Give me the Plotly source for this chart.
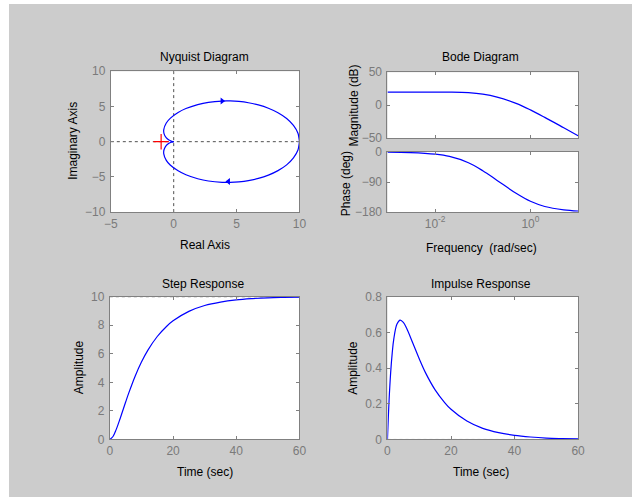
import plotly.graph_objects as go

# ---------------- data ----------------
# Nyquist, lower branch (positive frequencies): real / imag
nyq_re = [10.0, 9.88, 9.52, 8.98, 8.29, 7.53, 6.73, 5.94, 5.18, 4.49, 3.85, 2.76, 1.91, 0.97,
          0.35, -0.28, -0.59, -0.79, -0.77, -0.60, -0.38, -0.20, -0.08, 0.0]
nyq_im_low = [0.0, -1.19, -2.30, -3.29, -4.11, -4.75, -5.22, -5.53, -5.71, -5.78, -5.77, -5.58,
              -5.26, -4.70, -4.14, -3.31, -2.65, -1.72, -1.15, -0.57, -0.24, -0.08, -0.02, 0.0]
# Nyquist, upper branch (negative frequencies)
nyq_im_up = [0.0, 1.19, 2.30, 3.29, 4.11, 4.75, 5.22, 5.53, 5.71, 5.78, 5.77, 5.58,
             5.26, 4.70, 4.14, 3.31, 2.65, 1.72, 1.15, 0.57, 0.24, 0.08, 0.02, 0.0]
nyq_arrow_re = [3.85, 4.35]
nyq_arrow_im = [5.77, -5.65]

# Bode
bode_w = [0.001, 0.003, 0.01, 0.02, 0.05, 0.1, 0.2, 0.5, 1.0, 2.0, 5.0, 10.0]
bode_mag = [20.0, 20.0, 19.96, 19.82, 18.99, 16.82, 12.37, 2.84, -7.03, -18.34, -34.02, -46.03]
bode_phase = [-0.7, -2.1, -6.9, -13.6, -32.3, -56.3, -85.2, -123.7, -147.7, -163.1, -173.1, -176.6]

# Step response
step_t = [0, 1, 2, 3, 4, 5, 6, 8, 10, 12, 15, 18, 20, 25, 30, 35, 40, 45, 50, 55, 60]
step_y = [0, 0.21, 0.69, 1.30, 1.96, 2.62, 3.26, 4.43, 5.42, 6.24, 7.21, 7.93, 8.31, 8.97,
          9.38, 9.62, 9.77, 9.86, 9.92, 9.95, 9.97]
step_final = 10

# Impulse response
imp_t = [0, 0.5, 1, 1.5, 2, 3, 4, 5, 6, 8, 10, 12, 15, 18, 20, 25, 30, 35, 40, 45, 50, 55, 60]
imp_y = [0, 0.216, 0.373, 0.485, 0.564, 0.647, 0.669, 0.656, 0.624, 0.539, 0.452, 0.373, 0.278,
         0.207, 0.169, 0.103, 0.062, 0.038, 0.023, 0.014, 0.008, 0.005, 0.003]

# ---------------- figure ----------------
OFFX, OFFY = 9, 4                  # white page margin left / top (as in the reference)
W, H = 632 - OFFX, 497 - OFFY      # figure fills the rest of the window
BG = "#cccccc"
BLUE = "#0000ff"
FRAME = "#808080"
FONT = "Liberation Sans, Arial, sans-serif"


def px(x):
    # window pixel -> paper fraction
    return (x - OFFX) / W


def py(y):
    return 1 - (y - OFFY) / H


fig = go.Figure()

# Nyquist
fig.add_trace(go.Scatter(x=[-5, 10], y=[0, 0], mode="lines",
                         line=dict(color="#505050", width=1, dash="3px,3px"),
                         xaxis="x", yaxis="y", hoverinfo="skip"))
fig.add_trace(go.Scatter(x=[0, 0], y=[-10, 10], mode="lines",
                         line=dict(color="#505050", width=1, dash="3px,3px"),
                         xaxis="x", yaxis="y", hoverinfo="skip"))
fig.add_trace(go.Scatter(x=nyq_re, y=nyq_im_low, mode="lines", line=dict(color=BLUE, width=1.2, shape="spline", smoothing=0.6),
                         xaxis="x", yaxis="y"))
fig.add_trace(go.Scatter(x=nyq_re, y=nyq_im_up, mode="lines", line=dict(color=BLUE, width=1.2, shape="spline", smoothing=0.6),
                         xaxis="x", yaxis="y"))
fig.add_trace(go.Scatter(x=nyq_arrow_re, y=nyq_arrow_im, mode="markers",
                         marker=dict(color=BLUE, size=6, symbol=["triangle-right", "triangle-left"]),
                         xaxis="x", yaxis="y"))
fig.add_trace(go.Scatter(x=[-1], y=[0], mode="markers",
                         marker=dict(symbol="cross-thin", size=11, line=dict(color="#ff0000", width=1.2)),
                         xaxis="x", yaxis="y"))

# Bode
fig.add_trace(go.Scatter(x=bode_w, y=bode_mag, mode="lines", line=dict(color=BLUE, width=1.2, shape="spline"),
                         xaxis="x2", yaxis="y2"))
fig.add_trace(go.Scatter(x=bode_w, y=bode_phase, mode="lines", line=dict(color=BLUE, width=1.2, shape="spline"),
                         xaxis="x3", yaxis="y3"))

# Step
fig.add_trace(go.Scatter(x=[0, 60], y=[step_final, step_final], mode="lines",
                         line=dict(color="#202020", width=1, dash="3px,3px"), xaxis="x4", yaxis="y4"))
fig.add_trace(go.Scatter(x=step_t, y=step_y, mode="lines", line=dict(color=BLUE, width=1.2, shape="spline"),
                         xaxis="x4", yaxis="y4"))

# Impulse
fig.add_trace(go.Scatter(x=[0, 60], y=[0, 0], mode="lines",
                         line=dict(color="#202020", width=1, dash="3px,3px"), xaxis="x5", yaxis="y5"))
fig.add_trace(go.Scatter(x=imp_t, y=imp_y, mode="lines", line=dict(color=BLUE, width=1.2, shape="spline"),
                         xaxis="x5", yaxis="y5"))


def ax(domain, anchor, **kw):
    d = dict(domain=domain, anchor=anchor, showline=True, linecolor=FRAME, linewidth=1,
             mirror="allticks", ticks="inside", ticklen=3, tickcolor=FRAME,
             showgrid=False, zeroline=False, tickfont=dict(family=FONT, size=12, color="#7a7a7a"),
             fixedrange=True)
    d.update(kw)
    return d


L1, R1 = px(106), px(299)
L2, R2 = px(389), px(584)

layout = dict(
    width=W, height=H, margin=dict(l=0, r=0, t=0, b=0),
    paper_bgcolor=BG, plot_bgcolor="white", showlegend=False,
    font=dict(family=FONT, size=12, color="black"),
    xaxis=ax([L1, R1], "y", range=[-5, 10], tickvals=[-5, 0, 5, 10]),
    yaxis=ax([py(211), py(66)], "x", range=[-10, 10], tickvals=[-10, -5, 0, 5, 10], ticklabelstandoff=2),
    xaxis2=ax([L2, R2], "y2", type="log", range=[-3, 1], tickvals=[0.01, 1], showticklabels=False),
    yaxis2=ax([py(135), py(67)], "x2", range=[-50, 50], tickvals=[-50, 0, 50], ticklabelstandoff=2),
    xaxis3=ax([L2, R2], "y3", type="log", range=[-3, 1], tickvals=[0.01, 1],
              ticktext=["10<sup>-2</sup>", "10<sup>0</sup>"]),
    yaxis3=ax([py(211), py(149)], "x3", range=[-180, 0], tickvals=[-180, -90, 0], ticklabelstandoff=2),
    xaxis4=ax([px(105), R1], "y4", range=[0, 60], tickvals=[0, 20, 40, 60]),
    yaxis4=ax([py(445), py(298)], "x4", range=[0, 10], tickvals=[0, 2, 4, 6, 8, 10], ticklabelstandoff=2),
    xaxis5=ax([L2, R2], "y5", range=[0, 60], tickvals=[0, 20, 40, 60]),
    yaxis5=ax([py(445), py(298)], "x5", range=[0, 0.8], tickvals=[0, 0.2, 0.4, 0.6, 0.8], ticklabelstandoff=2),
)
fig.update_layout(**layout)


def text(x, y, s, angle=0):
    fig.add_annotation(x=px(x), y=py(y), xref="paper", yref="paper", text=s, showarrow=False,
                       textangle=angle, xanchor="center", yanchor="middle",
                       font=dict(family=FONT, size=12, color="black"))


text(202, 51, "Nyquist Diagram")
text(202, 245, "Real Axis")
text(68, 138, "Imaginary Axis", -90)
text(484, 51, "Bode Diagram")
text(485, 248, "Frequency  (rad/sec)")
text(355, 101, "Magnitude (dB)", -90)
text(347, 182, "Phase (deg)", -90)
text(200, 285, "Step Response")
text(202, 478, "Time (sec)")
text(73, 371, "Amplitude", -90)
text(485, 285, "Impulse Response")
text(485, 478, "Time (sec)")
text(353, 371, "Amplitude", -90)

fig.write_html("out.html", config={"displayModeBar": False},
               post_script="document.body.style.margin='%dpx 0px 0px %dpx';" % (OFFY, OFFX))
